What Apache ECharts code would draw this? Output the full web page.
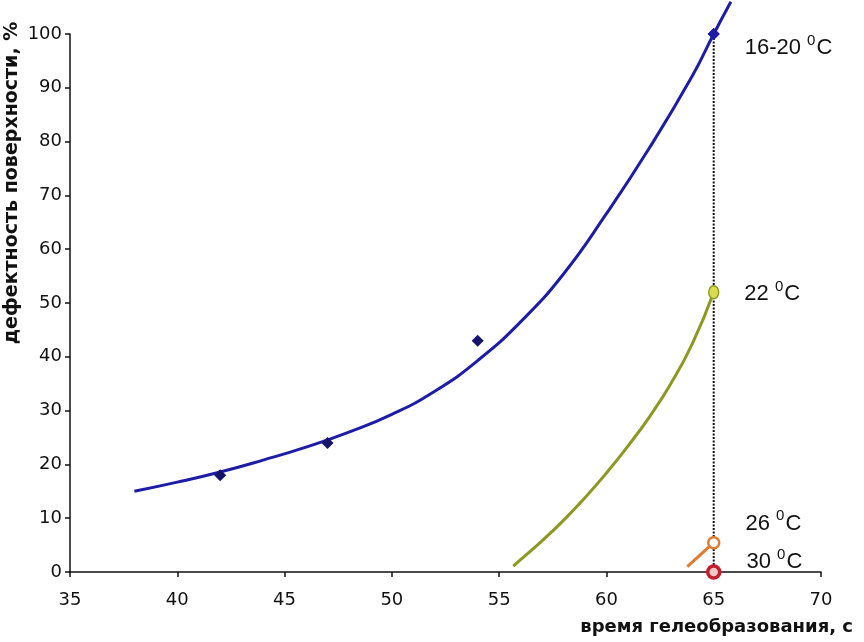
<!DOCTYPE html>
<html><head><meta charset="utf-8">
<script src="https://cdn.jsdelivr.net/npm/echarts@6/dist/echarts.min.js"></script>
<style>html,body{margin:0;padding:0;background:#fff}#c{width:864px;height:642px}</style>
</head><body><div id="c"></div>
<script>
// measured points (16-20 °C)
const pointsX = [42, 47, 54, 65];
const pointsY = [18, 24, 43, 100];
// trend curve 16-20 °C
const blueTrendX = [38, 40, 42, 44, 46, 48, 50, 52, 54, 56, 58, 60, 62, 64, 65, 65.8];
const blueTrendY = [15.0, 16.7, 18.6, 20.8, 23.2, 26.0, 29.3, 33.6, 39.3, 46.5, 55.4, 66.6, 78.8, 92.2, 100, 106];
// 22 °C curve
const greenX = [55.66, 56, 57, 58, 59, 60, 61, 62, 63, 64, 65];
const greenY = [1.1, 2.3, 5.8, 9.6, 13.8, 18.4, 23.4, 28.8, 35.0, 42.4, 52];
// 26 °C line
const orangeX = [63.77, 65];
const orangeY = [1.0, 5.45];
// 30 °C point
const redX = [65];
const redY = [0];
// vertical guide at 65 s
const guideX = [65, 65];
const guideY = [0, 100];
const labelTexts = ['16-20 ', '22 ', '26 ', '30 '];
const xTicks = {min: 35, max: 70, step: 5};
const yTicks = {min: 0, max: 100, step: 10};

const zip = (xs, ys) => xs.map((x, i) => [x, ys[i]]);
const rich = {
  a: {fontFamily: 'Liberation Sans', fontSize: 22, color: '#111', lineHeight: 26, verticalAlign: 'bottom'},
  s: {fontFamily: 'Liberation Sans', fontSize: 15, color: '#111', lineHeight: 26, verticalAlign: 'top', padding: [0, 1, 0, 0]}
};
const lbl = (t, dy) => ({
  show: true, position: 'right', distance: 0, offset: [25, dy], color: '#111',
  formatter: '{a|' + t + '}{s|0}{a|C}', rich: rich
});

const chart = echarts.init(document.getElementById('c'));
chart.setOption({
  animation: false,
  backgroundColor: '#ffffff',
  grid: {left: 70, right: 43, top: 34, bottom: 70, containLabel: false},
  xAxis: {
    type: 'value', min: xTicks.min, max: xTicks.max, interval: xTicks.step,
    splitLine: {show: false},
    axisLine: {onZero: false, lineStyle: {color: '#111', width: 1.5}},
    axisTick: {inside: false, length: 5, lineStyle: {color: '#111', width: 1.5}},
    axisLabel: {margin: 19, fontFamily: 'DejaVu Sans', fontSize: 18, color: '#111'}
  },
  yAxis: {
    type: 'value', min: yTicks.min, max: yTicks.max, interval: yTicks.step,
    splitLine: {show: false},
    axisLine: {show: true, lineStyle: {color: '#111', width: 1.5}},
    axisTick: {show: true, inside: false, length: 5, lineStyle: {color: '#111', width: 1.5}},
    axisLabel: {margin: 8, fontFamily: 'DejaVu Sans', fontSize: 18, color: '#111'}
  },
  graphic: [
    {type: 'text', x: 12, y: 183, rotation: Math.PI / 2,
     style: {text: 'дефектность поверхности, %', font: 'bold 19px "DejaVu Sans"',
             fill: '#111', align: 'center', verticalAlign: 'middle'}},
    {type: 'text', x: 853, y: 627,
     style: {text: 'время гелеобразования, с', font: 'bold 18px "DejaVu Sans"',
             fill: '#111', align: 'right', verticalAlign: 'middle'}}
  ],
  series: [
    {type: 'line', data: zip(guideX, guideY), symbol: 'none', silent: true,
     lineStyle: {color: '#111', width: 2, type: [2, 1.5]}, z: 1},
    {type: 'line', data: zip(blueTrendX, blueTrendY), smooth: 0.5, symbol: 'none', clip: false,
     lineStyle: {color: '#1c1ca6', width: 3}, z: 2},
    {type: 'scatter', data: zip(pointsX, pointsY), symbol: 'diamond', symbolSize: 12,
     itemStyle: {color: '#14146a', opacity: 1}, z: 3},
    {type: 'scatter', data: [[pointsX[3], pointsY[3]]], symbol: 'diamond', symbolSize: 12,
     itemStyle: {color: '#1c1ca6', opacity: 1}, z: 3, label: lbl(labelTexts[0], 12)},
    {type: 'line', data: zip(greenX, greenY), smooth: 0.5, symbol: 'none',
     lineStyle: {color: '#8c9820', width: 3}, z: 2},
    {type: 'scatter', data: [[65, greenY[greenY.length - 1]]], symbol: 'circle', symbolSize: [10, 13],
     itemStyle: {color: '#d8dc50', borderColor: '#8c9820', borderWidth: 1.5, opacity: 1}, z: 3,
     label: lbl(labelTexts[1], 0)},
    {type: 'line', data: zip(orangeX, orangeY), symbol: 'none',
     lineStyle: {color: '#e07a30', width: 3}, z: 2},
    {type: 'scatter', data: [[65, orangeY[1]]], symbol: 'circle', symbolSize: 11,
     itemStyle: {color: '#ffffff', borderColor: '#e07a30', borderWidth: 2.5, opacity: 1}, z: 3,
     label: lbl(labelTexts[2], -21)},
    {type: 'scatter', data: zip(redX, redY), symbol: 'circle', symbolSize: 12, clip: false,
     itemStyle: {color: '#f3c8c8', borderColor: '#c41e2c', borderWidth: 3.5, opacity: 1}, z: 4,
     label: lbl(labelTexts[3], -12)}
  ]
});
</script></body></html>
